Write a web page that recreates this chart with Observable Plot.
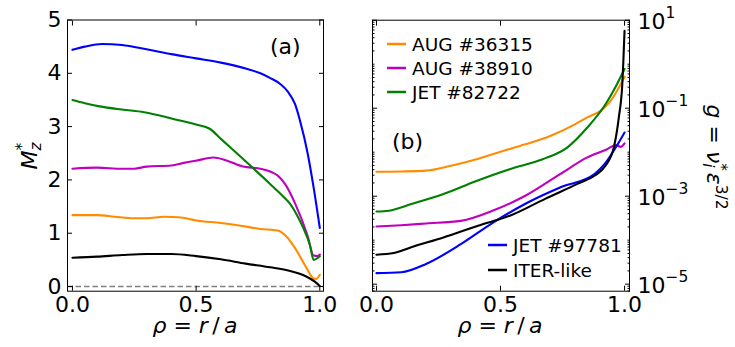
<!DOCTYPE html>
<html>
<head>
<meta charset="utf-8">
<script src="https://cdn.jsdelivr.net/npm/d3@7"></script>
<script src="https://cdn.jsdelivr.net/npm/@observablehq/plot@0.6"></script>
<style>
  html, body { margin: 0; padding: 0; background: #fff; }
  #fig { position: relative; width: 735px; height: 347px; overflow: hidden; font-family: "DejaVu Sans", sans-serif; }
  #fig svg { position: absolute; top: 0; }
  #fig text { white-space: pre; }
</style>
</head>
<body>
<div id="fig"></div>
<script>
// Discharges, in legend order, and their line colours
const names  = ["AUG #36315", "AUG #38910", "JET #82722", "JET #97781", "ITER-like"];
const colors = ["#ff8c00", "#bf00bf", "#008000", "#0000ff", "#000000"];

// Tick values
const rhoTicks = [0, 0.5, 1];
const mzTicks = [0, 1, 2, 3, 4, 5];
const gMajorTicks = [1e-5, 1e-3, 1e-1, 1e1];
const gExponents = ["\u22125", "\u22123", "\u22121", "1"];

// (a) M_z^* profiles
const rhoA_36315 = [0, 0.1, 0.17, 0.25, 0.3, 0.37, 0.43, 0.5, 0.6, 0.68, 0.76, 0.83, 0.86, 0.9, 0.94, 0.97, 0.985, 1.0];
const mz_36315   = [1.34, 1.34, 1.31, 1.28, 1.28, 1.31, 1.30, 1.24, 1.19, 1.14, 1.08, 1.05, 0.96, 0.72, 0.40, 0.17, 0.14, 0.22];

const rhoA_38910 = [0, 0.1, 0.2, 0.25, 0.3, 0.4, 0.45, 0.5, 0.57, 0.62, 0.69, 0.76, 0.83, 0.86, 0.9, 0.95, 0.975, 0.99, 1.0];
const mz_38910   = [2.21, 2.23, 2.21, 2.21, 2.25, 2.27, 2.32, 2.36, 2.42, 2.37, 2.25, 2.21, 2.08, 1.92, 1.56, 0.96, 0.58, 0.57, 0.60];

const rhoA_82722 = [0, 0.05, 0.11, 0.2, 0.29, 0.42, 0.5, 0.555, 0.6, 0.7, 0.8, 0.854, 0.88, 0.91, 0.935, 0.96, 0.975, 0.99, 1.0];
const mz_82722   = [3.50, 3.44, 3.38, 3.32, 3.27, 3.13, 3.04, 2.96, 2.77, 2.35, 1.92, 1.68, 1.55, 1.32, 1.08, 0.78, 0.50, 0.53, 0.57];

const rhoA_97781 = [0, 0.05, 0.12, 0.2, 0.3, 0.4, 0.5, 0.6, 0.7, 0.76, 0.8, 0.84, 0.87, 0.9, 0.92, 0.95, 0.975, 1.0];
const mz_97781   = [4.44, 4.50, 4.55, 4.53, 4.45, 4.36, 4.28, 4.20, 4.09, 4.00, 3.91, 3.80, 3.66, 3.42, 3.11, 2.52, 1.86, 1.10];

const rhoA_iter  = [0, 0.1, 0.2, 0.3, 0.4, 0.5, 0.6, 0.7, 0.8, 0.88, 0.93, 0.96, 0.98, 1.0];
const mz_iter    = [0.54, 0.56, 0.59, 0.61, 0.61, 0.57, 0.51, 0.43, 0.36, 0.29, 0.22, 0.15, 0.09, 0.01];

// (b) g = nu_i^* eps^(3/2) profiles
const rhoB_36315 = [0, 0.1, 0.2, 0.3, 0.4, 0.5, 0.6, 0.7, 0.8, 0.85, 0.9, 0.94, 0.97, 1.0];
const g_36315    = [3.6e-3, 3.65e-3, 3.8e-3, 4.9e-3, 6.8e-3, 1.02e-2, 1.51e-2, 2.34e-2, 4.3e-2, 6.2e-2, 8.5e-2, 0.138, 0.25, 0.52];

const rhoB_38910 = [0, 0.1, 0.2, 0.34, 0.47, 0.6, 0.74, 0.85, 0.93, 0.965, 0.985, 1.0];
const g_38910    = [2.04e-4, 2.19e-4, 2.4e-4, 2.75e-4, 4.7e-4, 1.02e-3, 3.16e-3, 7.6e-3, 1.17e-2, 1.45e-2, 1.32e-2, 1.58e-2];

const rhoB_82722 = [0, 0.05, 0.14, 0.27, 0.4, 0.54, 0.67, 0.77, 0.85, 0.92, 0.97, 1.0];
const g_82722    = [4.47e-4, 4.68e-4, 6.6e-4, 1.12e-3, 2.19e-3, 4.17e-3, 6.9e-3, 1.29e-2, 3.63e-2, 0.115, 0.355, 0.776];

const rhoB_97781 = [0, 0.1, 0.2, 0.34, 0.47, 0.61, 0.74, 0.88, 0.92, 0.96, 0.985, 1.0];
const g_97781    = [1.78e-5, 1.86e-5, 2.88e-5, 8.1e-5, 2.51e-4, 7.2e-4, 1.58e-3, 3.24e-3, 5.4e-3, 1.17e-2, 2.0e-2, 2.8e-2];

const rhoB_iter  = [0, 0.07, 0.14, 0.27, 0.41, 0.54, 0.68, 0.81, 0.88, 0.923, 0.957, 0.977, 0.991, 1.0];
const g_iter     = [4.68e-5, 5.1e-5, 6.9e-5, 1.15e-4, 2.14e-4, 3.63e-4, 8.7e-4, 1.9e-3, 2.95e-3, 4.9e-3, 1.29e-2, 6.2e-2, 0.355, 5.75];

// Long-format tables for Plot
function rows(rho, vals, k) {
  return rho.map((r, i) => ({rho: r, v: vals[i], name: names[k], color: colors[k]}));
}
const dataA = [
  ...rows(rhoA_36315, mz_36315, 0),
  ...rows(rhoA_38910, mz_38910, 1),
  ...rows(rhoA_82722, mz_82722, 2),
  ...rows(rhoA_97781, mz_97781, 3),
  ...rows(rhoA_iter,  mz_iter,  4)
];
const dataB = [
  ...rows(rhoB_36315, g_36315, 0),
  ...rows(rhoB_38910, g_38910, 1),
  ...rows(rhoB_82722, g_82722, 2),
  ...rows(rhoB_97781, g_97781, 3),
  ...rows(rhoB_iter,  g_iter,  4)
];

// Log minor ticks: 2..9 of every decade, plus the decades between labelled ones
const gMin = Math.pow(10, -5.16), gMax = 10;
const gMinorTicks = [];
for (let e = -6; e <= 0; e++) {
  for (let k = 1; k <= 9; k++) {
    if (k === 1 && (e % 2 !== 0)) continue;
    const v = k * Math.pow(10, e);
    if (v >= gMin && v <= gMax) gMinorTicks.push(v);
  }
}

const font = "DejaVu Sans, sans-serif";
const H = 347, W1 = 367, W2 = 368;
const baseStyle = {fontFamily: font, fontSize: "22px", color: "#000", background: "transparent", overflow: "visible"};
const lineOpts = {x: "rho", y: "v", z: "name", stroke: "color", strokeWidth: 2.1, strokeLinejoin: "round", curve: "monotone-x"};
const noText = () => "";

const panelA = Plot.plot({
  width: W1, height: H,
  marginLeft: 67, marginRight: 44, marginTop: 19.5, marginBottom: 56.3,
  x: {domain: [-0.02, 1.015]},
  y: {domain: [-0.088, 5]},
  color: {type: "identity"},
  style: baseStyle,
  marks: [
    Plot.ruleY([0], {stroke: "#808080", strokeWidth: 1.5, strokeDasharray: "5.5,3"}),
    Plot.line(dataA, lineOpts),
    Plot.frame({stroke: "#000", strokeWidth: 1}),
    Plot.axisX(rhoTicks, {anchor: "bottom", tickSize: -5, tickPadding: 10, tickFormat: d3.format(".1f"), label: null}),
    Plot.axisX(rhoTicks, {anchor: "top", tickSize: -5, tickFormat: noText, label: null}),
    Plot.axisY(mzTicks, {anchor: "left", tickSize: -5, tickPadding: 11, tickFormat: d3.format("d"), label: null}),
    Plot.axisY(mzTicks, {anchor: "right", tickSize: -5, tickFormat: noText, label: null})
  ]
});

const panelB = Plot.plot({
  width: W2, height: H,
  marginLeft: 5, marginRight: 106, marginTop: 19.7, marginBottom: 56.3,
  x: {domain: [-0.016, 1.02]},
  y: {type: "log", domain: [gMin, gMax]},
  color: {type: "identity"},
  style: baseStyle,
  marks: [
    Plot.line(dataB, lineOpts),
    Plot.frame({stroke: "#000", strokeWidth: 1}),
    Plot.axisX(rhoTicks, {anchor: "bottom", tickSize: -5, tickPadding: 10, tickFormat: d3.format(".1f"), label: null}),
    Plot.axisX(rhoTicks, {anchor: "top", tickSize: -5, tickFormat: noText, label: null}),
    Plot.axisY(gMajorTicks, {anchor: "left", tickSize: -5, tickFormat: noText, label: null}),
    Plot.axisY(gMinorTicks, {anchor: "left", tickSize: -2.5, tickFormat: noText, label: null}),
    Plot.axisY(gMajorTicks, {anchor: "right", tickSize: -5, tickFormat: noText, label: null}),
    Plot.axisY(gMinorTicks, {anchor: "right", tickSize: -2.5, tickFormat: noText, label: null}),
    Plot.text(gMajorTicks, {y: d => d, frameAnchor: "right", text: () => "10", textAnchor: "start", dx: 8, dy: 2, fontSize: 22}),
    Plot.text(gMajorTicks, {y: d => d, frameAnchor: "right", text: (d, i) => gExponents[i], textAnchor: "start", dx: 36, dy: -7, fontSize: 15.5})
  ]
});

const fig = document.getElementById("fig");
panelA.style.left = "0px";
panelB.style.left = W1 + "px";
fig.appendChild(panelA);
fig.appendChild(panelB);

// Annotation layer: panel tags, legends and axis titles
const ov = d3.create("svg")
  .attr("width", 735).attr("height", H)
  .style("left", "0px")
  .attr("font-family", font)
  .style("pointer-events", "none");

ov.append("text").attr("x", 270).attr("y", 54).attr("font-size", 22).text("(a)");
ov.append("text").attr("x", 392).attr("y", 149).attr("font-size", 22).text("(b)");

// legends
const legendGroups = [
  {items: [0, 1, 2], x0: 387, y0: 44, step: 24},
  {items: [3, 4], x0: 488, y0: 245, step: 25}
];
for (const grp of legendGroups) {
  grp.items.forEach((k, j) => {
    const y = grp.y0 + j * grp.step;
    ov.append("line")
      .attr("x1", grp.x0).attr("x2", grp.x0 + 19)
      .attr("y1", y).attr("y2", y)
      .attr("stroke", colors[k]).attr("stroke-width", 2.5);
    ov.append("text")
      .attr("x", grp.x0 + 25).attr("y", y + 6.8)
      .attr("font-size", 18.5)
      .text(names[k]);
  });
}

// x titles: rho = r / a
function rhoTitle(cx) {
  const t = ov.append("text").attr("x", cx).attr("y", 333)
    .attr("text-anchor", "middle").attr("font-size", 22);
  t.append("tspan").attr("font-style", "italic").text("\u03c1");
  t.append("tspan").text(" = ");
  t.append("tspan").attr("font-style", "italic").text("r");
  t.append("tspan").text("\u2009/\u2009");
  t.append("tspan").attr("font-style", "italic").text("a");
}
rhoTitle(195);
rhoTitle(500);

// y title, panel (a): M_z^*
{
  const t = ov.append("text")
    .attr("transform", "translate(36.5,156) rotate(-90)")
    .attr("text-anchor", "middle").attr("font-size", 22);
  t.append("tspan").attr("font-style", "italic").text("M");
  t.append("tspan").attr("font-style", "italic").attr("font-size", 15.4).attr("dy", 4.5).text("z");
  t.append("tspan").attr("font-size", 15.4).attr("dx", -8).attr("dy", -14).text("*");
}

// y title, panel (b): g = nu_i^* eps^(3/2)
{
  const t = ov.append("text")
    .attr("transform", "translate(707,157) rotate(90)")
    .attr("text-anchor", "middle").attr("font-size", 22);
  t.append("tspan").attr("font-style", "italic").text("g");
  t.append("tspan").text(" = ");
  t.append("tspan").attr("font-style", "italic").text("\u03bd");
  t.append("tspan").attr("font-style", "italic").attr("font-size", 15.4).attr("dy", 4.5).text("i");
  t.append("tspan").attr("font-size", 15.4).attr("dx", -4.3).attr("dy", -13).text("*");
  t.append("tspan").attr("font-style", "italic").attr("dx", 2).attr("dy", 8.5).text("\u03b5");
  t.append("tspan").attr("font-size", 15.4).attr("dy", -9).text("3/2");
}

fig.appendChild(ov.node());
</script>
</body>
</html>
